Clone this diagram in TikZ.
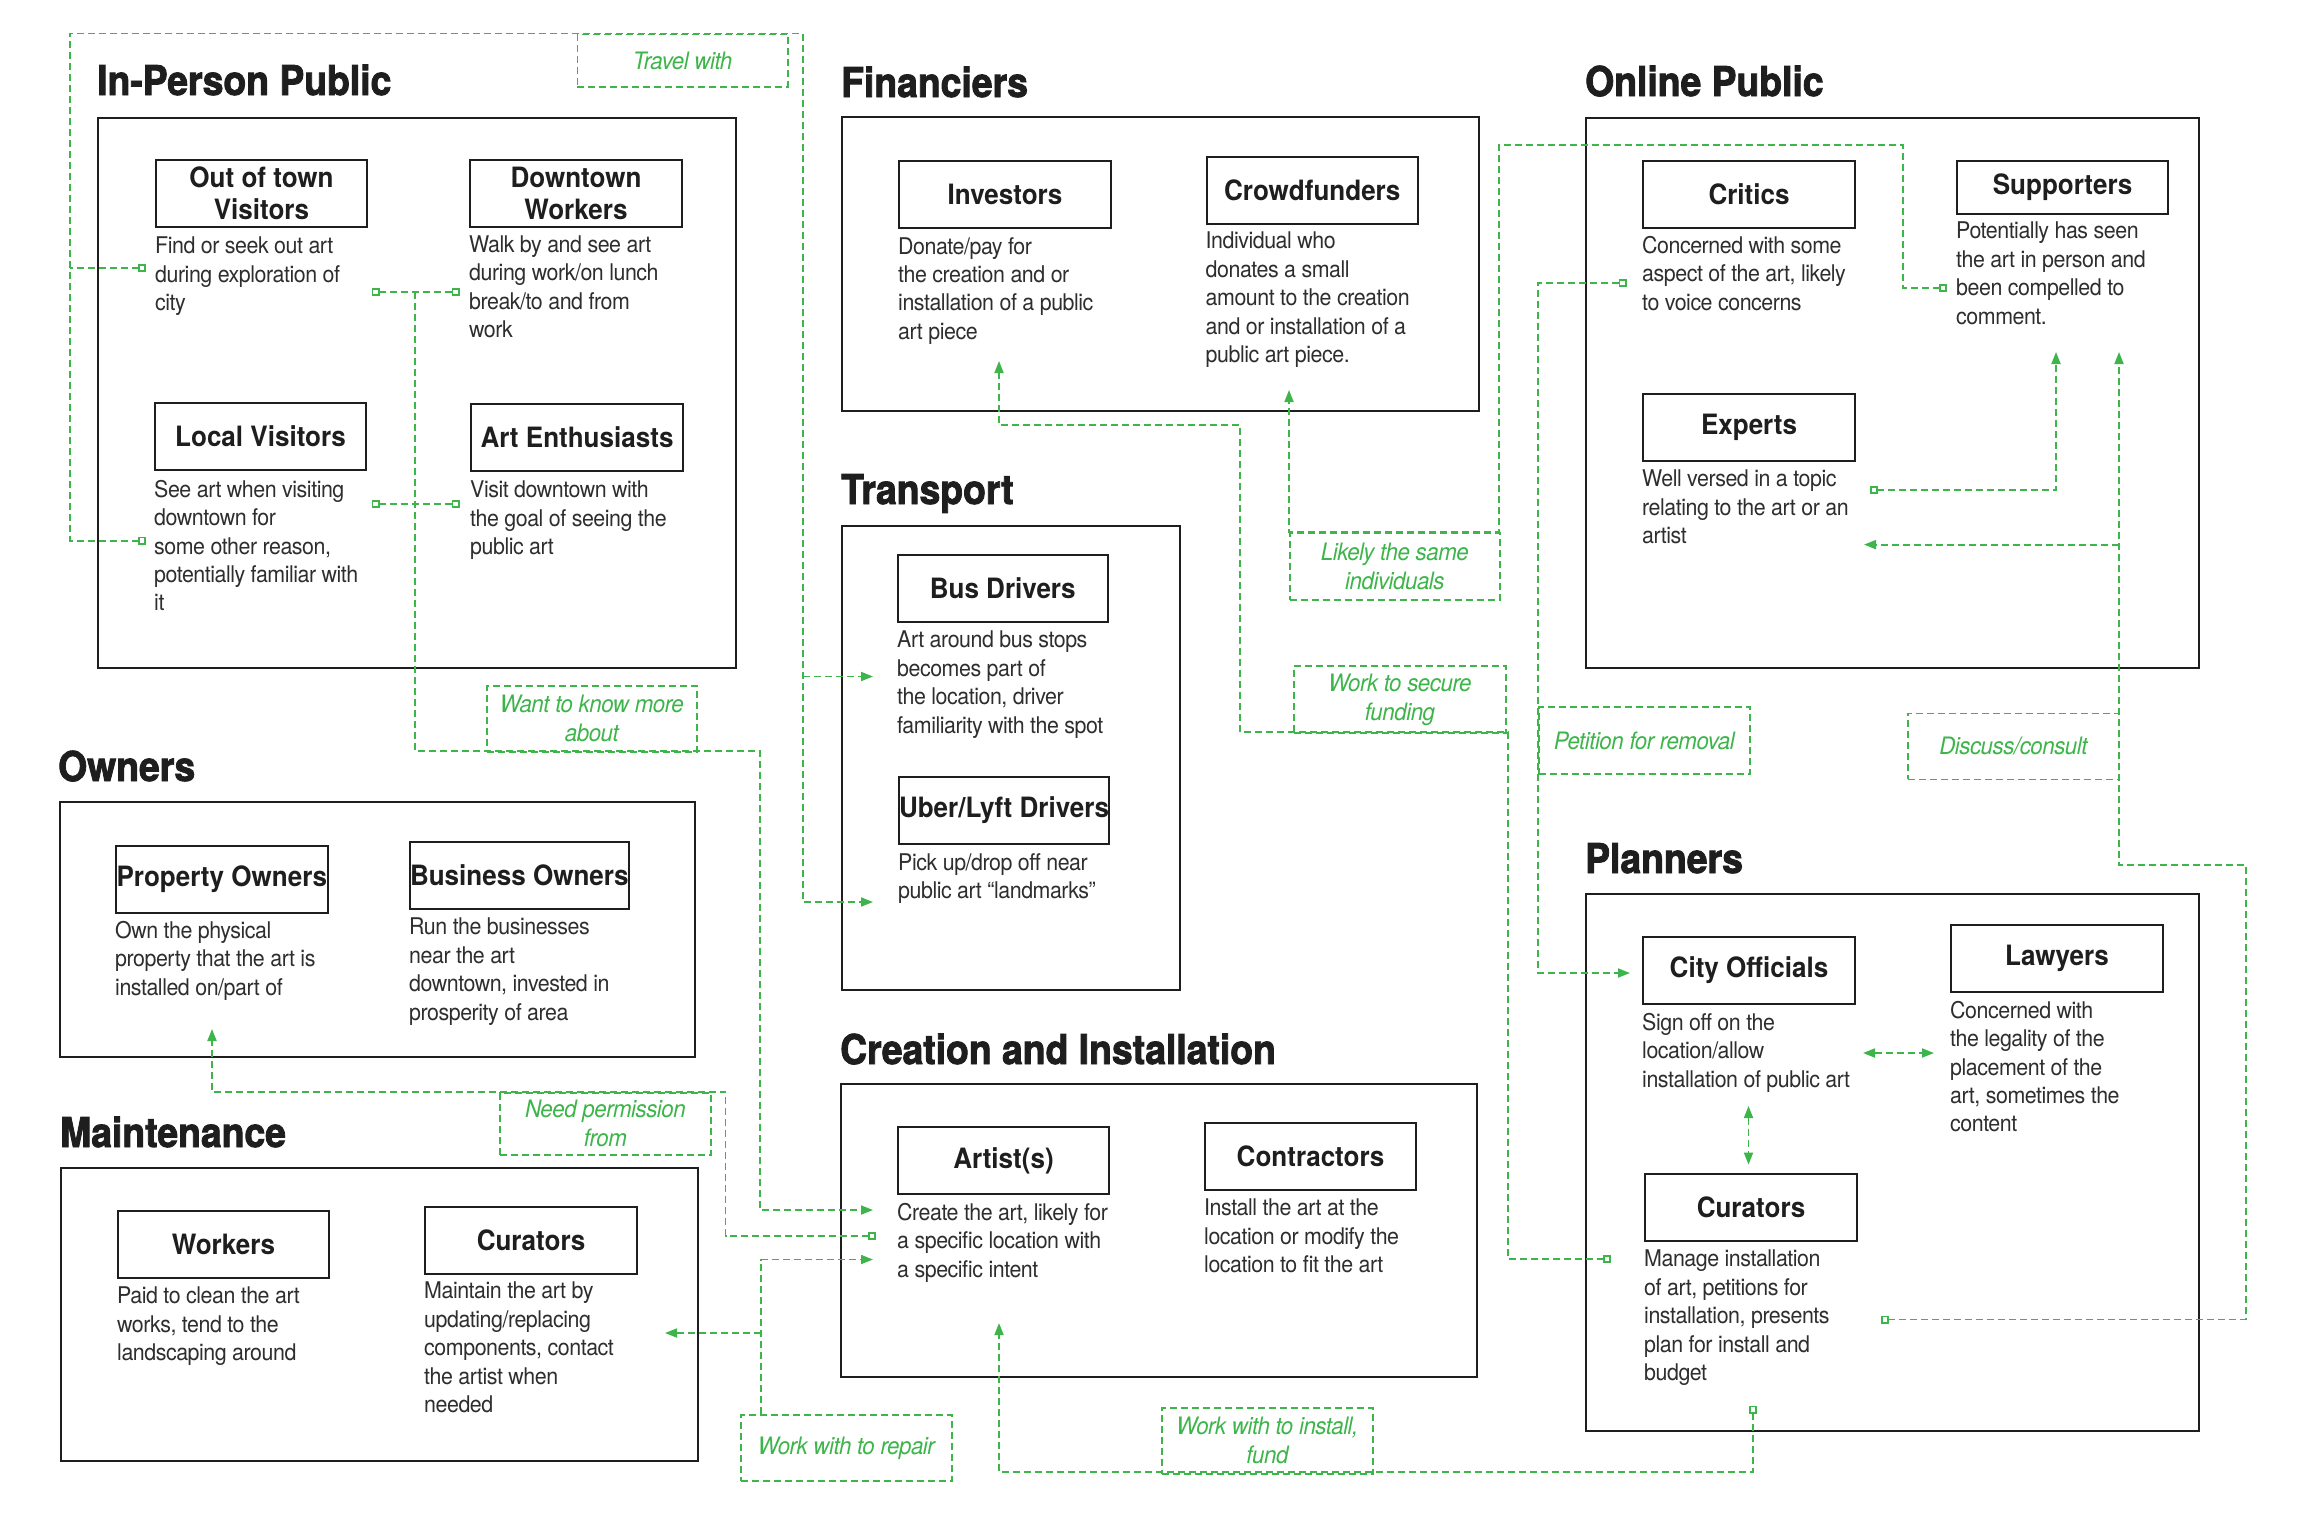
\documentclass[tikz,border=0pt]{standalone}
\usepackage{fontspec}
\usetikzlibrary{arrows.meta}
\newfontfamily\hdf{TeX Gyre Heros}[FakeStretch=0.93]
\newfontfamily\hvf{TeX Gyre Heros}[FakeStretch=0.91,BoldFeatures={FakeBold=2}]
\newfontfamily\txf{TeX Gyre Heros}[FakeStretch=0.93,LetterSpace=-2]
\definecolor{grn}{HTML}{3DB54A}
\definecolor{ink}{HTML}{1E1E1E}
\definecolor{txt}{HTML}{2E2E2E}
\tikzset{
  grp/.style={draw=ink, line width=2.2pt, anchor=north west, inner sep=0pt, rectangle},
  ttl/.style={draw=ink, line width=2pt, anchor=north west, inner sep=0pt, minimum width=212pt, minimum height=67pt, align=center, text=ink, font=\hdf\bfseries\fontsize{28}{32}\selectfont},
  hd/.style={anchor=base west, inner sep=0pt, text=ink, font=\hvf\bfseries\fontsize{41}{48}\selectfont},
  dsc/.style={anchor=north west, inner sep=0pt, align=left, text=txt, font=\txf\fontsize{23}{28.4}\selectfont, execute at begin node=\rule{0pt}{18pt}},
  lbl/.style={draw=grn, line width=1.8pt, dash pattern=on 7pt off 4pt, anchor=north west, inner sep=0pt, align=center, text=grn, font=\txf\itshape\fontsize{24}{29}\selectfont},
  cn/.style={draw=grn, line width=1.8pt, dash pattern=on 7pt off 4pt},
  tri/.tip={Triangle[length=12pt,width=9pt]},
  sq/.tip={Square[open,length=8pt,width=8pt,line width=1.6pt]}
}
\begin{document}
\begin{tikzpicture}[x=1pt,y=-1pt]
\fill[white] (0,0) rectangle (2302,1515);
\useasboundingbox (0,0) rectangle (2302,1515);

% headings
\node[hd] (hIn) at (97,95) {In-Person Public};
\node[hd] (hFin) at (841,97) {Financiers};
\node[hd] (hOn) at (1585,96) {Online Public};
\node[hd] (hTr) at (841,504) {Transport};
\node[hd] (hOw) at (58,781) {Owners};
\node[hd] (hMa) at (60,1147) {Maintenance};
\node[hd] (hCr) at (840,1064) {Creation and Installation};
\node[hd] (hPl) at (1585,873) {Planners};

% group boxes
\node[grp, minimum width=638pt, minimum height=550pt] (gIn) at (97,117) {};
\node[grp, minimum width=637pt, minimum height=294pt] (gFin) at (841,116) {};
\node[grp, minimum width=613pt, minimum height=550.5pt] (gOn) at (1585,116.5) {};
\node[grp, minimum width=338pt, minimum height=464.5pt] (gTr) at (841,524.5) {};
\node[grp, minimum width=635.3pt, minimum height=255pt] (gOw) at (58.7,801) {};
\node[grp, minimum width=636.5pt, minimum height=293pt] (gMa) at (60,1167) {};
\node[grp, minimum width=636pt, minimum height=293pt] (gCr) at (840,1083) {};
\node[grp, minimum width=613pt, minimum height=537pt] (gPl) at (1585,893) {};

% title boxes
\node[ttl, minimum width=211pt] (tOut) at (155,159) {Out of town\\Visitors};
\node[ttl] (tDown) at (469,159) {Downtown\\Workers};
\node[ttl, minimum width=211pt] (tLoc) at (154,402) {Local Visitors};
\node[ttl] (tArt) at (470,403) {Art Enthusiasts};
\node[ttl] (tInv) at (898,160) {Investors};
\node[ttl, minimum width=211.5pt] (tCrowd) at (1205.5,156) {Crowdfunders};
\node[ttl] (tCrit) at (1642,160) {Critics};
\node[ttl, minimum width=211pt, minimum height=53pt] (tSupp) at (1956,160) {Supporters};
\node[ttl] (tExp) at (1642,393) {Experts};
\node[ttl, minimum width=209.5pt] (tBus) at (897,553.6) {Bus Drivers};
\node[ttl, minimum width=209.5pt] (tUber) at (898,776) {Uber/Lyft Drivers};
\node[ttl, minimum width=211.5pt] (tProp) at (115,845) {Property Owners};
\node[ttl, minimum width=211pt] (tBiz) at (409,841) {Business Owners};
\node[ttl, minimum width=211pt] (tWork) at (117,1210) {Workers};
\node[ttl] (tCurM) at (424,1206) {Curators};
\node[ttl, minimum width=211pt] (tArtist) at (897,1126) {Artist(s)};
\node[ttl, minimum width=211pt] (tContr) at (1204,1122) {Contractors};
\node[ttl] (tCity) at (1642,936) {City Officials};
\node[ttl] (tLaw) at (1950,924) {Lawyers};
\node[ttl] (tCurP) at (1644,1173) {Curators};

% descriptions (top = first baseline - 18)
\node[dsc] (dOut) at (155,237) {Find or seek out art\\during exploration of\\city};
\node[dsc] (dDown) at (469,235.5) {Walk by and see art\\during work/on lunch\\break/to and from\\work};
\node[dsc] (dLoc) at (154,480) {See art when visiting\\downtown for\\some other reason,\\potentially familiar with\\it};
\node[dsc] (dArt) at (470,481) {Visit downtown with\\the goal of seeing the\\public art};
\node[dsc] (dInv) at (898,237) {Donate/pay for\\the creation and or\\installation of a public\\art piece};
\node[dsc] (dCrowd) at (1205.5,232) {Individual who\\donates a small\\amount to the creation\\and or installation of a\\public art piece.};
\node[dsc] (dCrit) at (1642,236) {Concerned with some\\aspect of the art, likely\\to voice concerns};
\node[dsc] (dSupp) at (1956,222) {Potentially has seen\\the art in person and\\been compelled to\\comment.};
\node[dsc] (dExp) at (1642,470) {Well versed in a topic\\relating to the art or an\\artist};
\node[dsc] (dBus) at (897,631) {Art around bus stops\\becomes part of\\the location, driver\\familiarity with the spot};
\node[dsc] (dUber) at (898,853) {Pick up/drop off near\\public art “landmarks”};
\node[dsc] (dProp) at (115,921) {Own the physical\\property that the art is\\installed on/part of};
\node[dsc] (dBiz) at (409,918) {Run the businesses\\near the art\\downtown, invested in\\prosperity of area};
\node[dsc] (dWork) at (117,1287) {Paid to clean the art\\works, tend to the\\landscaping around};
\node[dsc] (dCurM) at (424,1282) {Maintain the art by\\updating/replacing\\components, contact\\the artist when\\needed};
\node[dsc] (dArtist) at (897,1203) {Create the art, likely for\\a specific location with\\a specific intent};
\node[dsc] (dContr) at (1204,1199) {Install the art at the\\location or modify the\\location to fit the art};
\node[dsc] (dCity) at (1642,1013) {Sign off on the\\location/allow\\installation of public art};
\node[dsc] (dLaw) at (1950,1001) {Concerned with\\the legality of the\\placement of the\\art, sometimes the\\content};
\node[dsc] (dCurP) at (1644,1250) {Manage installation\\of art, petitions for\\installation, presents\\plan for install and\\budget};

% label boxes
\node[lbl, minimum width=210.5pt, minimum height=52.5pt] (lTravel) at (576.5,33.5) {Travel with};
\node[lbl, minimum width=210pt, minimum height=66pt] (lWant) at (486,685) {Want to know more\\about};
\node[lbl, minimum width=211pt, minimum height=62pt] (lNeed) at (499,1092) {Need permission\\from};
\node[lbl, minimum width=211pt, minimum height=66pt] (lRepair) at (740,1414) {Work with to repair};
\node[lbl, minimum width=211pt, minimum height=66pt] (lInstall) at (1161,1407) {Work with to install,\\fund};
\node[lbl, minimum width=212pt, minimum height=67pt] (lSecure) at (1293,665) {Work to secure\\funding};
\node[lbl, minimum width=210pt, minimum height=67pt] (lSame) at (1289,532) {Likely the same\\individuals};
\node[lbl, minimum width=211pt, minimum height=67pt] (lPet) at (1538,706) {Petition for removal};
\node[lbl, minimum width=211pt, minimum height=66pt] (lDisc) at (1907,712.5) {Discuss/consult};

% connector end points
\coordinate (sqOut) at (146,268);
\coordinate (sqLoc) at (146,540.6);
\coordinate (arBus) at (873,676.5);
\coordinate (arUber) at (873,902);
\coordinate (sqOutR) at (371.5,292);
\coordinate (sqDownL) at (459.6,292);
\coordinate (sqLocR) at (371.5,504);
\coordinate (sqArtL) at (459.6,504);
\coordinate (arArt1) at (873,1210);
\coordinate (sqArt2) at (876,1236);
\coordinate (arProp) at (212,1029);
\coordinate (arArt3) at (873,1259.5);
\coordinate (arCurM) at (665,1333);
\coordinate (sqCurPb) at (1753,1405.5);
\coordinate (arArtUp) at (999,1323);
\coordinate (sqCurPl) at (1611,1259);
\coordinate (arInv) at (999,361);
\coordinate (sqCrit) at (1626.5,283);
\coordinate (arCity) at (1630,973);
\coordinate (sqSupp) at (1947,288);
\coordinate (arCrowd) at (1289,390);
\coordinate (sqCurPr) at (1881,1319.5);
\coordinate (arSupp2) at (2119,352);
\coordinate (arExp) at (1864,544.6);
\coordinate (sqExp) at (1870,490);
\coordinate (arSupp1) at (2056,352);

% connectors
\draw[cn,sq-tri] (sqLoc) -- (70,540.6) -- (70,33.5) -- (803,33.5) -- (803,902) -- (arUber);
\draw[cn,sq-] (sqOut) -- (70,268);
\draw[cn,-tri] (803,676.5) -- (arBus);

\draw[cn,sq-sq] (sqOutR) -- (sqDownL);
\draw[cn,sq-sq] (sqLocR) -- (sqArtL);
\draw[cn,-tri] (415,292) -- (415,751) -- (760,751) -- (760,1210) -- (arArt1);

\draw[cn,sq-tri] (sqArt2) -- (725.5,1236) -- (725.5,1092) -- (212,1092) -- (arProp);

\draw[cn,-tri] (761,1414) -- (761,1259.5) -- (arArt3);
\draw[cn,-tri] (761,1333) -- (arCurM);

\draw[cn,sq-tri] (sqCurPb) -- (1753,1472) -- (999,1472) -- (arArtUp);

\draw[cn,sq-tri] (sqCurPl) -- (1508,1259) -- (1508,732) -- (1240,732) -- (1240,425) -- (999,425) -- (arInv);

\draw[cn,sq-tri] (sqCrit) -- (1538,283) -- (1538,973) -- (arCity);

\draw[cn,sq-tri] (sqSupp) -- (1903,288) -- (1903,145) -- (1499,145) -- (1499,532) -- (1289,532) -- (arCrowd);

\draw[cn,sq-tri] (sqCurPr) -- (2246,1319.5) -- (2246,865) -- (2119,865) -- (arSupp2);
\draw[cn,-tri] (2119,544.6) -- (arExp);

\draw[cn,sq-tri] (sqExp) -- (2056,490) -- (arSupp1);

\draw[cn,tri-tri] (1863,1053) -- (1934,1053);
\draw[cn,tri-tri] (1748.5,1106) -- (1748.5,1164.6);
\end{tikzpicture}
\end{document}
